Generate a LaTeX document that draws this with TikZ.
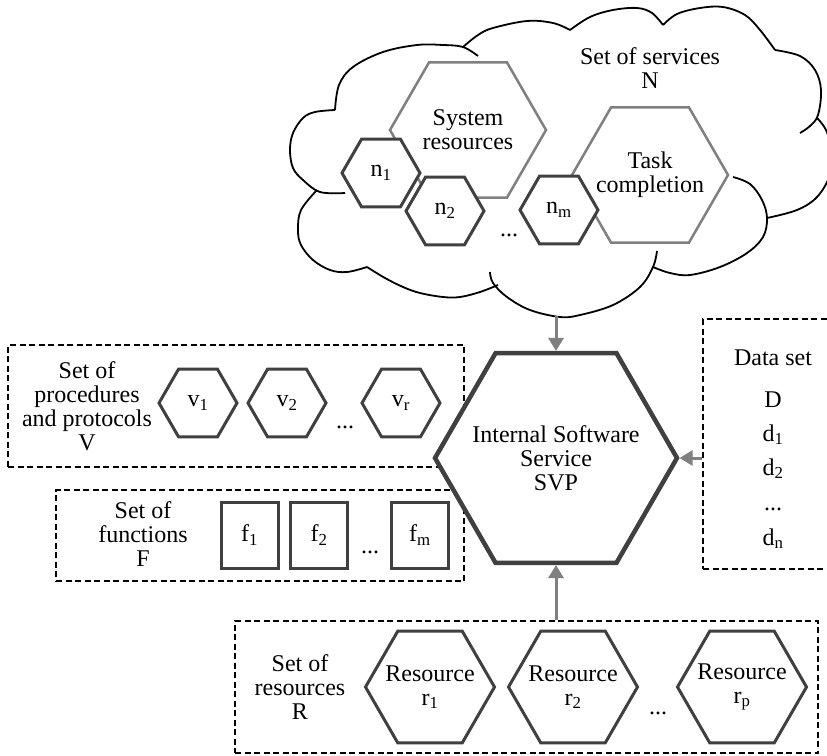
\documentclass[tikz,border=0pt]{standalone}
\usepackage{fontspec}
\setmainfont{Liberation Serif}
\usetikzlibrary{shapes.geometric,arrows.meta}
\definecolor{dk}{HTML}{404040}
\definecolor{md}{HTML}{808080}
\begin{document}
\begin{tikzpicture}[x=1pt,y=-1pt,
  every node/.style={font=\fontsize{24}{24}\selectfont, inner sep=0pt, align=center},
  hexs/.style={regular polygon, regular polygon sides=6, minimum size=78pt, draw=dk, fill=white, line width=3pt},
  hexg/.style={regular polygon, regular polygon sides=6, minimum size=156pt, draw=md, fill=white, line width=2.5pt},
  hexr/.style={regular polygon, regular polygon sides=6, minimum size=129pt, draw=dk, fill=white, line width=3pt},
  hexc/.style={regular polygon, regular polygon sides=6, minimum size=242pt, draw=dk, fill=white, line width=4.5pt},
  sq/.style={rectangle, minimum width=57pt, minimum height=66pt, draw=dk, fill=white, line width=3pt},
  dbox/.style={rectangle, draw=black, line width=1.4pt, dash pattern=on 6pt off 3.5pt},
  cloudline/.style={draw=black, line width=1.8pt},
  arr/.style={draw=md, line width=3pt, -{Triangle[length=13pt,width=15pt]}}]
\useasboundingbox (0,0) rectangle (827,755);
\clip (0,0) rectangle (827,755);
\fill[white] (0,0) rectangle (827,755);
% cloud
\draw[cloudline] plot[smooth,tension=0.6] coordinates {(335,110) (339,85) (353,67) (383,52) (417,45) (443,45) (463,47) (478,56)};
\draw[cloudline] plot[smooth,tension=0.6] coordinates {(463,47) (478,35) (493,28) (527,21) (553,23) (570,30)};
\draw[cloudline] plot[smooth,tension=0.6] coordinates {(570,30) (590,17) (613,10) (637,8) (652,13) (663,25)};
\draw[cloudline] plot[smooth,tension=0.6] coordinates {(663,25) (677,14) (700,8) (723,7) (745,15) (760,30) (775,50)};
\draw[cloudline] plot[smooth,tension=0.6] coordinates {(775,50) (800,56) (815,70) (821,90) (818,115) (810,126) (800,133)};
\draw[cloudline] plot[smooth,tension=0.6] coordinates {(817,118) (826,130) (832,152) (830,175) (817,197) (797,210) (767,218)};
\draw[cloudline] plot[smooth,tension=0.6] coordinates {(733,177) (750,184) (762,200) (767,218) (763,237) (747,253) (720,267) (690,275) (670,273) (653,267)};
\draw[cloudline] plot[smooth,tension=0.6] coordinates {(657,251) (653,267) (640,287) (613,305) (580,315) (560,317) (530,310) (507,297) (493,283) (490,272)};
\draw[cloudline] plot[smooth,tension=0.6] coordinates {(498,285) (480,292) (460,297) (443,297) (420,293) (403,287) (385,278) (367,267)};
\draw[cloudline] plot[smooth,tension=0.6] coordinates {(367,267) (347,272) (330,270) (313,260) (301,245) (298,230) (301,210) (317,190)};
\draw[cloudline] plot[smooth,tension=0.6] coordinates {(335,110) (315,112) (303,118) (293,133) (290,150) (293,168) (303,180) (320,192) (345,193)};
\coordinate (cb) at (557,316);
% cloud content
\node (Nlab) at (650,68) {Set of services\\N};
\node[hexg] (sysres) at (468,130) {};
\node (sysres-t) at (sysres) {System\\resources};
\node[hexg] (task) at (650,175) {};
\node (task-t) at (task) {Task\\completion};
\node[hexs] (n1) at (381,173) {n\textsubscript{1}};
\node[hexs] (n2) at (445,211) {n\textsubscript{2}};
\node (ndots) at (509,235) {...};
\node[hexs] (nm) at (559,210) {n\textsubscript{m}};
% dashed boxes
\node[dbox, minimum width=456pt, minimum height=122pt] (Vbox) at (236,406) {};
\node[dbox, minimum width=408pt, minimum height=91pt] (Fbox) at (260,535.5) {};
\node[dbox, minimum width=160pt, minimum height=250pt] (Dbox) at (783,444) {};
\node[dbox, minimum width=583pt, minimum height=132pt] (Rbox) at (526.5,687) {};
% V
\node (Vlab) at (87,406) {Set of\\procedures\\and protocols\\V};
\node[hexs] (v1) at (198,403) {v\textsubscript{1}};
\node[hexs] (v2) at (287,403) {v\textsubscript{2}};
\node (vdots) at (345,427) {...};
\node[hexs] (vr) at (401,403) {v\textsubscript{r}};
% F
\node (Flab) at (143,534) {Set of\\functions\\F};
\node[sq] (f1) at (249.5,535) {f\textsubscript{1}};
\node[sq] (f2) at (319,535) {f\textsubscript{2}};
\node (fdots) at (370,552) {...};
\node[sq] (fm) at (420,535) {f\textsubscript{m}};
% D
\node[anchor=base] (dtitle) at (773,365) {Data set};
\node[anchor=base] (dD) at (773,407) {D};
\node[anchor=base] (d1) at (773,441) {d\textsubscript{1}};
\node[anchor=base] (d2) at (773,475) {d\textsubscript{2}};
\node[anchor=base] (ddots) at (773,510) {...};
\node[anchor=base] (dn) at (773,545) {d\textsubscript{n}};
% R
\node (Rlab) at (300,687) {Set of\\resources\\R};
\node[hexr] (r1) at (430,687) {};
\node (r1-t) at (r1) {Resource\\r\textsubscript{1}};
\node[hexr] (r2) at (573,687) {};
\node (r2-t) at (r2) {Resource\\r\textsubscript{2}};
\node (rdots) at (658,713) {...};
\node[hexr] (rp) at (742,687) {};
\node (rp-t) at (rp) {Resource\\r\textsubscript{p}};
% central
\node[hexc] (svp) at (556,458) {};
\node (svp-t) at (svp) {Internal Software\\Service\\SVP};
% arrows
\draw[arr] (svp.north |- cb) -- (svp.north);
\draw[arr] (Dbox.west |- svp.east) -- (svp.east);
\draw[arr] (svp.south |- Rbox.north) -- (svp.south);
\end{tikzpicture}
\end{document}
